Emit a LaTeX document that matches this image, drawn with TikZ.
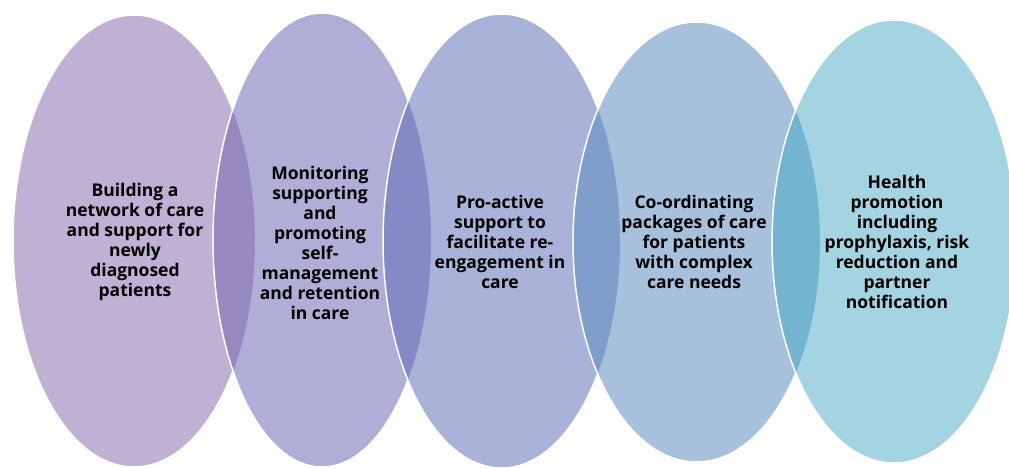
\documentclass[tikz,border=0pt]{standalone}
\usepackage{fontspec}
\setmainfont{Open Sans}
\definecolor{ea}{HTML}{BEB1D3}
\definecolor{eb}{HTML}{B0AED6}
\definecolor{ec}{HTML}{A9B2D8}
\definecolor{ed}{HTML}{A7C1DD}
\definecolor{ee}{HTML}{A4D4E1}
\definecolor{oab}{HTML}{9688C0}
\definecolor{obc}{HTML}{858AC6}
\definecolor{ocd}{HTML}{7F9ECC}
\definecolor{ode}{HTML}{73B4D0}
\tikzset{
  ring/.style={draw=white, line width=1.5pt},
  label/.style={align=center, font=\fontsize{17.5}{20}\selectfont\bfseries, text=black, inner sep=0pt}
}
\begin{document}
\begin{tikzpicture}[x=1pt, y=-1pt]
\useasboundingbox (0,0) rectangle (1009,468);
% ellipse 1
\fill[ea] (134,241) ellipse [x radius=121, y radius=226];
\draw[ring] (134,241) ellipse [x radius=121, y radius=226];
% ellipse 2
\fill[eb] (322,240) ellipse [x radius=109, y radius=227];
\begin{scope}
  \clip (134,241) ellipse [x radius=121, y radius=226];
  \fill[oab] (322,240) ellipse [x radius=109, y radius=227];
\end{scope}
\draw[ring] (322,240) ellipse [x radius=109, y radius=227];
% ellipse 3
\fill[ec] (501.5,241) ellipse [x radius=118.5, y radius=227];
\begin{scope}
  \clip (322,240) ellipse [x radius=109, y radius=227];
  \fill[obc] (501.5,241) ellipse [x radius=118.5, y radius=227];
\end{scope}
\draw[ring] (501.5,241) ellipse [x radius=118.5, y radius=227];
% ellipse 4
\fill[ed] (696.5,242) ellipse [x radius=123.5, y radius=220];
\begin{scope}
  \clip (501.5,241) ellipse [x radius=118.5, y radius=227];
  \fill[ocd] (696.5,242) ellipse [x radius=123.5, y radius=220];
\end{scope}
\draw[ring] (696.5,242) ellipse [x radius=123.5, y radius=220];
% ellipse 5
\fill[ee] (894,241.5) ellipse [x radius=122, y radius=221.5];
\begin{scope}
  \clip (696.5,242) ellipse [x radius=123.5, y radius=220];
  \fill[ode] (894,241.5) ellipse [x radius=122, y radius=221.5];
\end{scope}
\draw[ring] (894,241.5) ellipse [x radius=122, y radius=221.5];
% texts
\node[label] (t1) at (135,242) {Building a\\network of care\\and support for\\newly\\diagnosed\\patients};
\node[label] (t2) at (320,243) {Monitoring\\supporting\\and\\promoting\\self-\\management\\and retention\\in care};
\node[label] (t3) at (500,241.5) {Pro-active\\support to\\facilitate re-\\engagement in\\care};
\node[label] (t4) at (694,241.5) {Co-ordinating\\packages of care\\for patients\\with complex\\care needs};
\node[label] (t5) at (897,242) {Health\\promotion\\including\\prophylaxis, risk\\reduction and\\partner\\notification};
\end{tikzpicture}
\end{document}
